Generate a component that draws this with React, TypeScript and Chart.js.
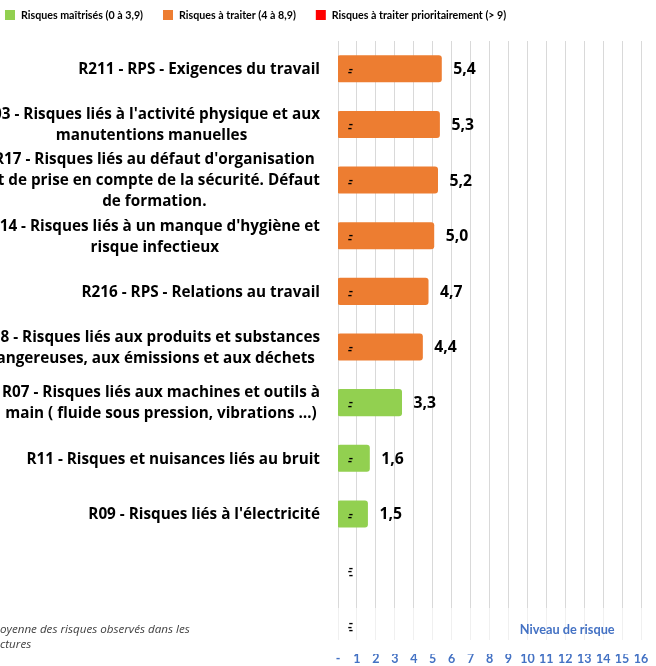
import React, { useEffect, useRef } from "react";
import { Chart, registerables } from "chart.js";

Chart.register(...registerables);

const FONT = "'Open Sans'";
const FONT2 = "Lato";

const categories: string[][] = [
  ["R211 - RPS - Exigences du travail"],
  ["R03 - Risques liés à l'activité physique et aux", "manutentions manuelles"],
  ["R17 - Risques liés au défaut d'organisation", "et de prise en compte de la sécurité. Défaut", "de formation."],
  ["R14 - Risques liés à un manque d'hygiène et", "risque infectieux"],
  ["R216 - RPS - Relations au travail"],
  ["R08 - Risques liés aux produits et substances", "dangereuses, aux émissions et aux déchets"],
  ["R07 - Risques liés aux machines et outils à", "main ( fluide sous pression, vibrations …)"],
  ["R11 - Risques et nuisances liés au bruit"],
  ["R09 - Risques liés à l'électricité"],
  [],
  [],
];

const values: (number | null)[] = [5.4, 5.3, 5.2, 5.0, 4.7, 4.4, 3.3, 1.6, 1.5, null, null];

// number of zero-valued "-" labels stacked at the start of each row
const zeroLabelCounts: number[] = [2, 2, 2, 2, 2, 2, 2, 2, 2, 3, 3];

const xMin = 0;
const xMax = 17;

const legendLabels: string[] = [
  "Risques maîtrisés (0 à 3,9)",
  "Risques à traiter (4 à 8,9)",
  "Risques à traiter prioritairement (> 9)",
];
const legendColors: string[] = ["#92D050", "#ED7D31", "#FF0000"];

const axisTitle = "Niveau de risque";
const noteLines: string[] = ["Moyenne des risques observés dans les", "structures"];
const noteHidden: string[] = ["M", "stru"];

const colorFor = (v: number | null) =>
  v == null ? legendColors[0] : v >= 9 ? legendColors[2] : v >= 4 ? legendColors[1] : legendColors[0];

const CUT = 160; // part of the chart hidden on the left
const CW = 830;
const CH = 673;

function fit(ctx: CanvasRenderingContext2D, style: string, text: string, target: number, family = FONT) {
  ctx.font = `${style} 20px ${family}`;
  const w = ctx.measureText(text).width;
  const size = (20 * target) / w;
  return `${style} ${size.toFixed(2)}px ${family}`;
}

const customPlugin = {
  id: "customDraw",
  beforeDatasetsDraw(chart: any) {
    const { ctx, chartArea: a } = chart;
    ctx.save();
    ctx.fillStyle = "rgba(255,255,255,0.6)";
    ctx.fillRect(a.left - 1, a.bottom - 45, a.right - a.left + 2, 32);
    ctx.fillStyle = "#ffffff";
    ctx.fillRect(a.left - 1, a.bottom - 13, a.right - a.left + 2, 14);
    ctx.restore();
  },
  afterDraw(chart: any) {
    const { ctx, chartArea: a } = chart;
    const xs = chart.scales.x;
    const ys = chart.scales.y;
    ctx.save();

    // legend
    ctx.font = fit(ctx, "bold", legendLabels[0], 122, FONT2);
    ctx.textBaseline = "middle";
    ctx.textAlign = "left";
    const box = 10;
    const gap = 6;
    const spacing = 20;
    const widths = legendLabels.map((t) => box + gap + ctx.measureText(t).width);
    let lx = CUT + 5;
    const ly = 15;
    legendLabels.forEach((t, i) => {
      ctx.fillStyle = legendColors[i];
      ctx.fillRect(lx, ly - box / 2, box, box);
      ctx.fillStyle = "#000";
      ctx.fillText(t, lx + box + gap, ly + 1);
      lx += widths[i] + spacing;
    });

    // category labels: right-aligned blocks, centered lines
    ctx.font = fit(ctx, "bold", categories[0][0], 242);
    ctx.textAlign = "center";
    ctx.fillStyle = "#000";
    const lh = 21;
    categories.forEach((lines, i) => {
      if (!lines.length) return;
      const cy = ys.getPixelForValue(i);
      const w = Math.max(...lines.map((l) => ctx.measureText(l).width));
      const cx = a.left - 18 - w / 2;
      lines.forEach((l, j) => {
        ctx.fillText(l, cx, cy + 1 + (j - (lines.length - 1) / 2) * lh);
      });
    });

    // value labels
    const meta = chart.getDatasetMeta(0);
    ctx.font = fit(ctx, "bold", "5,4", 22.5);
    ctx.textAlign = "left";
    meta.data.forEach((bar: any, i: number) => {
      const v = values[i];
      if (v == null) return;
      ctx.fillText(v.toFixed(1).replace(".", ","), bar.x + 13, bar.y + 1);
    });

    // zero "-" labels
    ctx.font = `bold 13px ${FONT2}`;
    ctx.textAlign = "center";
    const x0 = xs.getPixelForValue(0);
    zeroLabelCounts.forEach((n, i) => {
      const cy = ys.getPixelForValue(i);
      for (let k = 0; k < n; k++) {
        ctx.fillText("-", x0 + 13 - (k % 2), cy + 1 + k * 3.5 - (n - 1) * 1.5 + 1);
      }
    });

    // axis title
    ctx.font = fit(ctx, "bold", axisTitle, 95, FONT2);
    ctx.fillStyle = "#4472C4";
    ctx.textAlign = "center";
    ctx.fillText(axisTitle, xs.getPixelForValue(12.1), a.bottom - 23);

    // note
    ctx.font = fit(ctx, "italic", "oyenne des risques observés dans les", 190);
    ctx.fillStyle = "#404040";
    ctx.textAlign = "left";
    noteLines.forEach((t, j) => {
      const hidden = ctx.measureText(noteHidden[j]).width;
      ctx.fillText(t, CUT - hidden, a.bottom - 23 + j * 15);
    });

    ctx.restore();
  },
};

export default function App() {
  const ref = useRef<HTMLCanvasElement | null>(null);
  useEffect(() => {
    if (!ref.current) return;
    const chart = new Chart(ref.current, {
      type: "bar",
      data: {
        labels: categories.map((l) => l.join(" ")),
        datasets: [
          {
            data: values as any,
            backgroundColor: values.map(colorFor),
            borderRadius: 3,
            borderSkipped: false,
            categoryPercentage: 0.48,
            barPercentage: 0.9,
            inflateAmount: 1.5,
          } as any,
        ],
      },
      plugins: [customPlugin],
      options: {
        indexAxis: "y",
        animation: false,
        responsive: false,
        layout: { padding: { top: 41, right: 10, left: 0, bottom: 0 } },
        plugins: { legend: { display: false }, tooltip: { enabled: false }, title: { display: false } },
        scales: {
          x: {
            type: "linear",
            position: "bottom",
            min: xMin,
            max: xMax,
            grid: { color: "#D9D9D9", lineWidth: 1, drawTicks: false },
            border: { display: false },
            ticks: {
              stepSize: 1,
              padding: -2,
              color: "#4472C4",
              font: { family: "Lato", size: 12.5, weight: "bold" },
              callback: (v: any) => (Number(v) === 0 ? "-" : Number(v) >= xMax ? "" : String(v)),
              maxRotation: 0,
              autoSkip: false,
            },
            afterFit: (s: any) => {
              s.height = 20;
            },
          },
          y: {
            type: "category",
            grid: { display: false, drawTicks: false },
            border: { display: false },
            ticks: { display: false },
            afterFit: (s: any) => {
              s.width = CUT + 338;
            },
          },
        },
      } as any,
    });
    return () => chart.destroy();
  }, []);
  return (
    <div style={{ position: "absolute", left: 0, top: 0, width: 656, height: 666, overflow: "hidden", background: "#fff" }}>
      <canvas ref={ref} width={CW} height={CH} style={{ position: "absolute", left: -CUT, top: 0, width: CW, height: CH }} />
    </div>
  );
}
